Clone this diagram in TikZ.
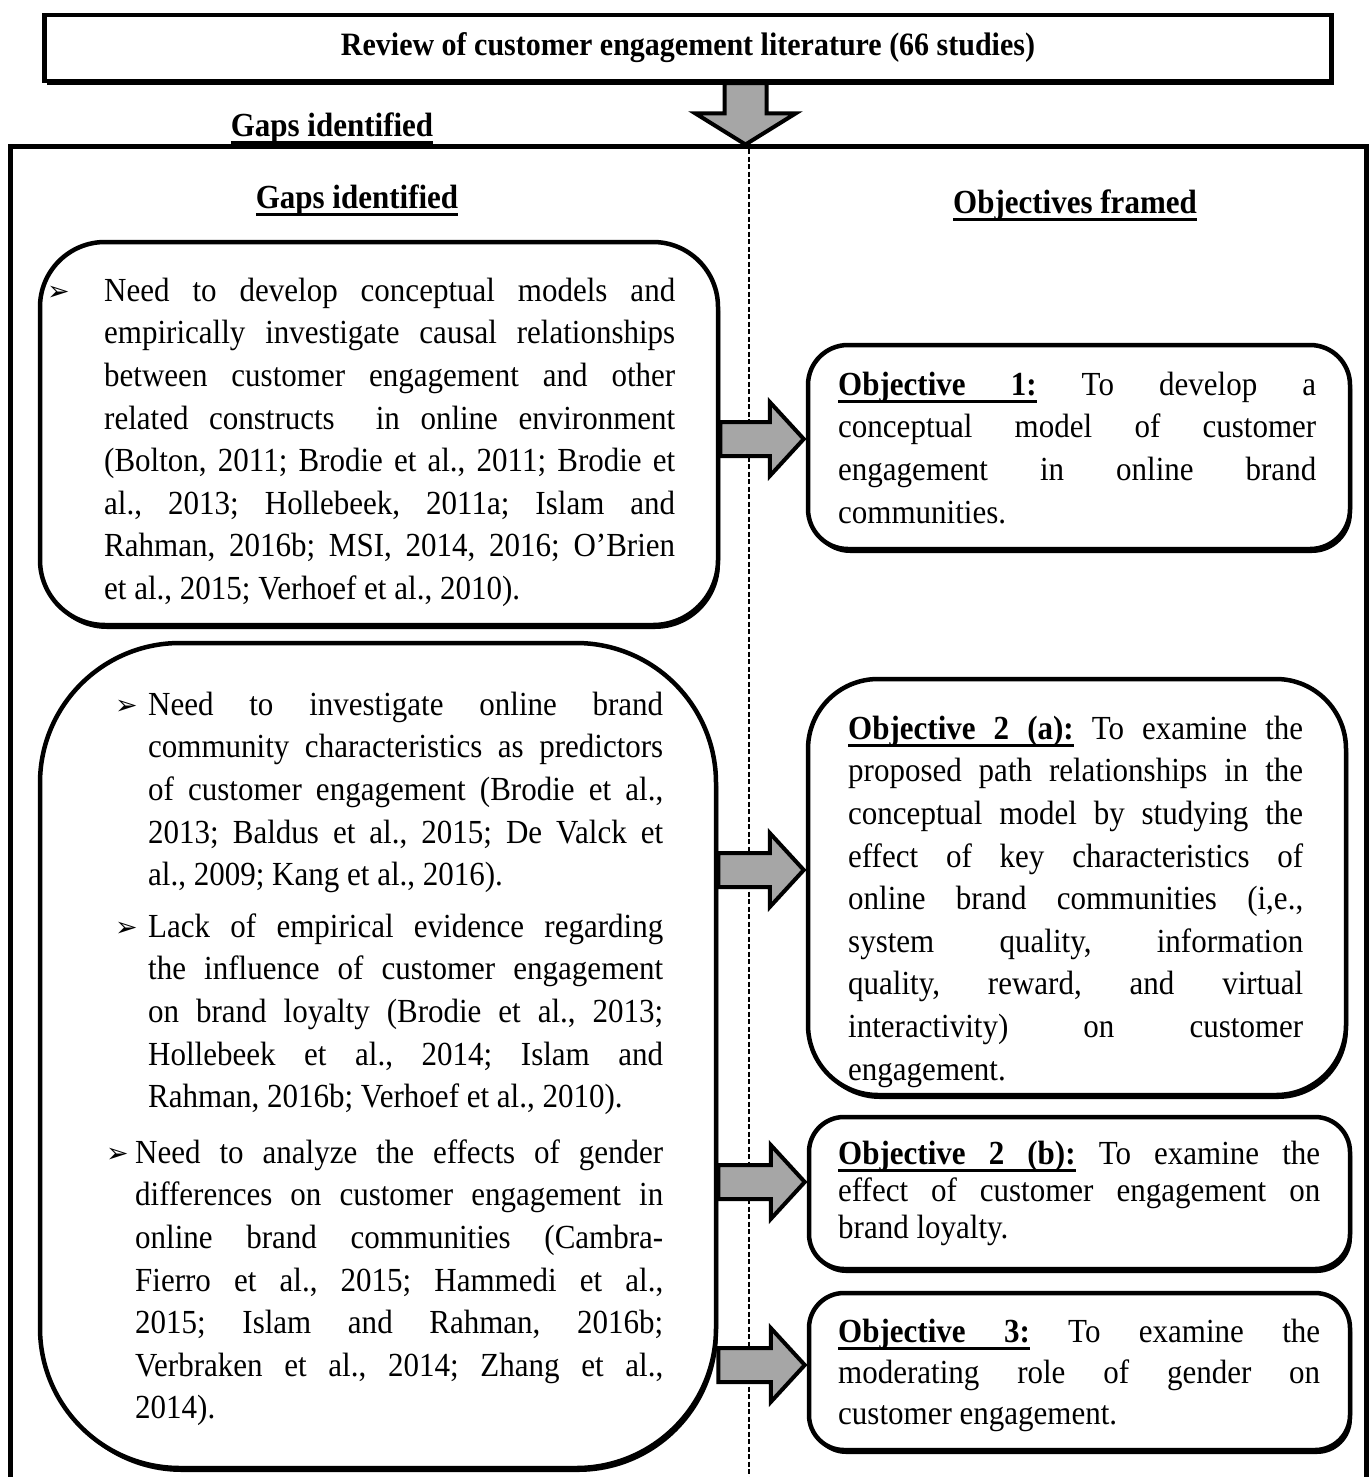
\documentclass[tikz,border=0pt]{standalone}
\usepackage{fontspec}
\setmainfont[FakeStretch=0.92]{Liberation Serif}
\newfontfamily\dingfont{DejaVu Sans}
\usetikzlibrary{calc,shadows}

% lines are broken by hand; let TeX stretch them freely
\tolerance=10000
\hbadness=10000
\hyphenpenalty=10000
\exhyphenpenalty=10000

% thick underline: one word, and a stretchable underlined space
\newcommand{\ulw}[1]{\setbox0\hbox{#1}\rlap{\rule[-8pt]{\wd0}{3.3pt}}\box0}
\newcommand{\uls}{\leaders\hrule height -4.7pt depth 8pt\hskip\fontdimen2\font plus\fontdimen3\font minus\fontdimen4\font\relax}

\newcommand{\fl}{\rule{0pt}{28pt}}
\newcommand{\bul}{{\dingfont\fontsize{27}{27}\selectfont ➢}}

% horizontal block arrow from a box edge to the edge of the next box
\newcommand{\harrow}[2]{%
  \draw[blockarrow] let \p1=(#1), \p2=(#2) in
    (\x1,\y1+17pt) -- (\x2-36pt,\y1+17pt) -- (\x2-36pt,\y1+37pt) -- (\x2-2pt,\y1)
    -- (\x2-36pt,\y1-37pt) -- (\x2-36pt,\y1-17pt) -- (\x1,\y1-17pt) -- cycle;}

\tikzset{
  x=1pt, y=-1pt,
  boxline/.style={draw=black, line width=4.5pt, fill=white,
    drop shadow={shadow xshift=2pt, shadow yshift=-4pt, fill=black, opacity=1}},
  topbox/.style={boxline, rectangle, inner sep=0pt},
  roundbox/.style={boxline, rectangle, inner sep=0pt},
  bodytext/.style={anchor=north west, inner sep=0pt, align=justify,
    font=\fontsize{33.7}{42.6}\selectfont\frenchspacing},
  heading/.style={anchor=base, inner sep=0pt, font=\fontsize{33.7}{40}\selectfont\bfseries},
  bullet/.style={anchor=base west, inner sep=0pt},
  blockarrow/.style={draw=black, line width=4pt, fill=black!35, line join=miter},
  frame/.style={draw=black, line width=5pt},
  divider/.style={draw=black, line width=1.5pt, dash pattern=on 5pt off 2.5pt},
}

\begin{document}
\begin{tikzpicture}
\useasboundingbox (0,0) rectangle (1372,1477);

% outer frame (open at the bottom) and the centre divider
\coordinate (ftip) at (745.5,146.5);
\draw[frame] (10.5,1490) -- (10.5,146.5) -- (1366,146.5) -- (1366,1490);
\draw[divider] (749,149) -- (749,1480);

% title box
\node[topbox, minimum width=1287pt, minimum height=66pt,
  font=\fontsize{32.6}{36}\selectfont\bfseries] (rev) at (688,48)
  {Review of customer engagement literature (66 studies)};

% headings
\node[heading] (h0) at (332,136) {\ulw{Gaps}\uls\ulw{identified}};
\node[heading] (h1) at (357,208) {\ulw{Gaps}\uls\ulw{identified}};
\node[heading] (h2) at (1075,213) {\ulw{Objectives}\uls\ulw{framed}};

% gap boxes
\node[roundbox, minimum width=678pt, minimum height=383pt, rounded corners=65pt] (g1) at (379,433.5) {};
\node[roundbox, minimum width=676pt, minimum height=825pt, rounded corners=140pt] (g2) at (378,1055.5) {};

% objective boxes
\node[roundbox, minimum width=542pt, minimum height=204pt, rounded corners=40pt] (o1) at (1079,447) {};
\node[roundbox, minimum width=538pt, minimum height=416pt, rounded corners=70pt] (o2a) at (1077,887) {};
\node[roundbox, minimum width=541pt, minimum height=152pt, rounded corners=35pt] (o2b) at (1079.5,1193) {};
\node[roundbox, minimum width=541pt, minimum height=157pt, rounded corners=35pt] (o3) at (1079.5,1371.5) {};

% down arrow from the title box into the frame
\draw[blockarrow] let \p1=(rev.south -| ftip), \p2=(ftip) in
  (\x1-21pt,\y1) -- (\x1-21pt,\y2+33pt) -- (\x1-50pt,\y2+33pt) -- (\x2,\y2+2pt)
  -- (\x1+50pt,\y2+33pt) -- (\x1+21pt,\y2+33pt) -- (\x1+21pt,\y1) -- cycle;

% arrows from gaps to objectives
\coordinate (r1) at (0,439);
\coordinate (r2) at (0,870);
\coordinate (r3) at (0,1182);
\coordinate (r4) at (0,1365);
\harrow{g1.east |- r1}{o1.west |- r1}
\harrow{g2.east |- r2}{o2a.west |- r2}
\harrow{g2.east |- r3}{o2b.west |- r3}
\harrow{g2.east |- r4}{o3.west |- r4}

% gap texts
\node[bullet] (b1) at (47,300) {\bul};
\node[bodytext, text width=571pt] (t1) at (104,273) {\fl Need to develop conceptual models and\linebreak
empirically investigate causal relationships\linebreak
between customer engagement and other\linebreak
related constructs\ \ in online environment\linebreak
(Bolton, 2011; Brodie et al., 2011; Brodie et\linebreak
al., 2013; Hollebeek, 2011a; Islam and\linebreak
Rahman, 2016b; MSI, 2014, 2016; O’Brien\linebreak
et al., 2015; Verhoef et al., 2010).};

\node[bullet] (b2a) at (115,714) {\bul};
\node[bodytext, text width=515pt] (t2a) at (148,687) {\fl Need to investigate online brand\linebreak
community characteristics as predictors\linebreak
of customer engagement (Brodie et al.,\linebreak
2013; Baldus et al., 2015; De Valck et\linebreak
al., 2009; Kang et al., 2016).};

\node[bullet] (b2b) at (115,936) {\bul};
\node[bodytext, text width=515pt] (t2b) at (148,909) {\fl Lack of empirical evidence regarding\linebreak
the influence of customer engagement\linebreak
on brand loyalty (Brodie et al., 2013;\linebreak
Hollebeek et al., 2014; Islam and\linebreak
Rahman, 2016b; Verhoef et al., 2010).};

\node[bullet] (b2c) at (106,1162) {\bul};
\node[bodytext, text width=528pt] (t2c) at (135,1135) {\fl Need to analyze the effects of gender\linebreak
differences on customer engagement in\linebreak
online brand communities (Cambra-\linebreak
Fierro et al., 2015; Hammedi et al.,\linebreak
2015; Islam and Rahman, 2016b;\linebreak
Verbraken et al., 2014; Zhang et al.,\linebreak
2014).};

% objective texts
\node[bodytext, text width=478pt] (to1) at (838,367) {\fl\textbf{\ulw{Objective}\uls\ulw{1:}} To develop a\linebreak
conceptual model of customer\linebreak
engagement in online brand\linebreak
communities.};

\node[bodytext, text width=455pt] (to2a) at (848,711) {\fl\textbf{\ulw{Objective}\uls\ulw{2}\uls\ulw{(a):}} To examine the\linebreak
proposed path relationships in the\linebreak
conceptual model by studying the\linebreak
effect of key characteristics of\linebreak
online brand communities (i,e.,\linebreak
system quality, information\linebreak
quality, reward, and virtual\linebreak
interactivity) on customer\linebreak
engagement.};

\node[bodytext, text width=482pt, font=\fontsize{33.7}{37}\selectfont\frenchspacing] (to2b) at (838,1136) {\fl\textbf{\ulw{Objective}\uls\ulw{2}\uls\ulw{(b):}} To examine the\linebreak
effect of customer engagement on\linebreak
brand loyalty.};

\node[bodytext, text width=482pt, font=\fontsize{33.7}{41}\selectfont\frenchspacing] (to3) at (838,1314) {\fl\textbf{\ulw{Objective}\uls\ulw{3:}} To examine the\linebreak
moderating role of gender on\linebreak
customer engagement.};

\end{tikzpicture}
\end{document}
